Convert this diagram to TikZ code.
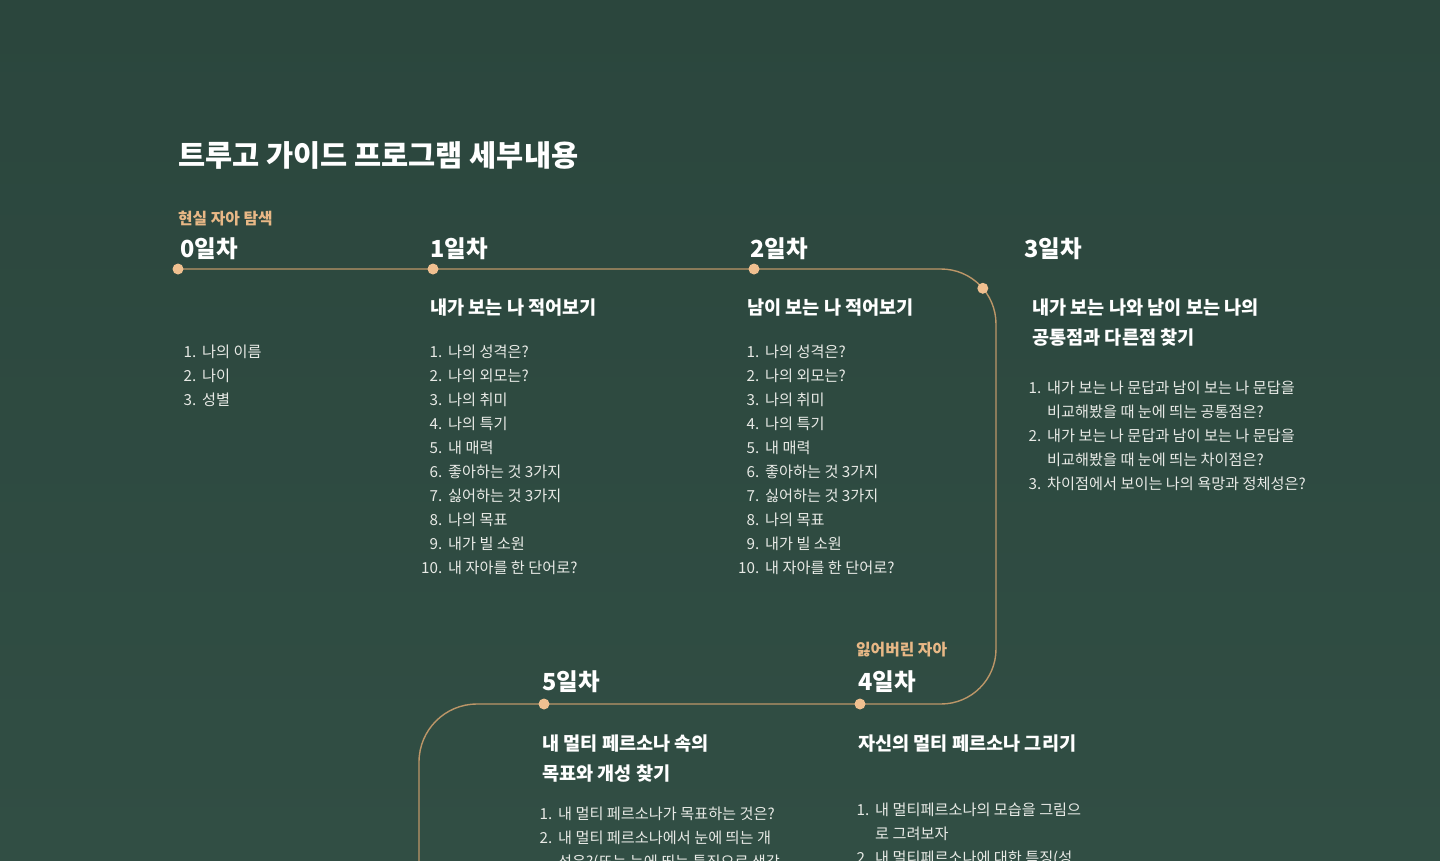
\documentclass[tikz,border=0pt]{standalone}
\usepackage{fontspec}
\usetikzlibrary{calc}
\setmainfont{Noto Sans CJK KR}
\definecolor{bgtop}{RGB}{43,70,61}
\definecolor{bgbot}{RGB}{49,78,68}
\definecolor{linec}{RGB}{188,150,104}
\definecolor{dotc}{RGB}{240,192,144}
\definecolor{accent}{RGB}{232,184,134}
\definecolor{itemc}{RGB}{232,234,230}
\tikzset{
  ttl/.style={font=\bfseries\fontsize{29.5}{35}\selectfont, text=white, anchor=base west, inner sep=0},
  daylbl/.style={font=\bfseries\fontsize{23.5}{28}\selectfont, text=white, anchor=base west, inner sep=0},
  tagl/.style={font=\bfseries\fontsize{15.8}{19}\selectfont, text=accent, anchor=base west, inner sep=0},
  head/.style={font=\bfseries\fontsize{18.6}{22}\selectfont, text=white, anchor=base west, inner sep=0},
  item/.style={font=\fontsize{15.2}{18}\selectfont, text=itemc, anchor=base west, inner sep=0},
  num/.style={font=\fontsize{15.2}{18}\selectfont, text=itemc, anchor=base east, inner sep=0},
  tdot/.style={circle, fill=dotc, minimum size=11, inner sep=0},
  tl/.style={draw=linec, line width=1.4}
}
\begin{document}
\begin{tikzpicture}[x=1pt,y=-1pt]
\useasboundingbox (0,0) rectangle (1440,860);
\clip (0,0) rectangle (1440,860);
\shade[top color=bgtop, bottom color=bgbot] (0,0) rectangle (1440,860);

% title
\node[ttl] (title) at (178,166) {트루고 가이드 프로그램 세부내용};

% timeline
\coordinate (c1a) at (941,269);
\coordinate (c1b) at (996,324);
\coordinate (c2a) at (996,649);
\coordinate (c2b) at (941,704);
\coordinate (c3a) at (477,704);
\coordinate (c3b) at (419,762);
\coordinate (tend) at (419,880);
\coordinate (d0) at (178,269);
\coordinate (d1) at (433,269);
\coordinate (d2) at (754,269);
\coordinate (d3) at ($(941,324)+(-40.5:55)$);
\coordinate (d4) at (860,704);
\coordinate (d5) at (544,704);
\draw[tl] (d0) -- (c1a) arc[start angle=-90,end angle=0,radius=55] -- (c2a)
  arc[start angle=0,end angle=90,radius=55] -- (c3a)
  arc[start angle=-90,end angle=-180,radius=58] -- (tend);
\foreach \d in {0,...,5}{ \node[tdot] (dot\d) at (d\d) {}; }

% day labels
\node[tagl] (tag0) at (178,224) {현실 자아 탐색};
\node[daylbl] (day0) at (180,257) {0일차};
\node[daylbl] (day1) at (430,257) {1일차};
\node[daylbl] (day2) at (750,257) {2일차};
\node[daylbl] (day3) at (1024,257) {3일차};
\node[tagl] (tag4) at (856,655) {잃어버린 자아};
\node[daylbl] (day4) at (858,690) {4일차};
\node[daylbl] (day5) at (542,690) {5일차};

% day 0 list
\foreach \t [count=\i] in {나의 이름,나이,성별}{
  \node[num] (n0-\i) at (196.5,{357+24*(\i-1)}) {\i.};
  \node[item] (t0-\i) at (202,{357+24*(\i-1)}) {\t};
}

% day 1
\node[head] (h1) at (430,314) {내가 보는 나 적어보기};
\foreach \t [count=\i] in {나의 성격은?,나의 외모는?,나의 취미,나의 특기,내 매력,좋아하는 것 3가지,싫어하는 것 3가지,나의 목표,내가 빌 소원,내 자아를 한 단어로?}{
  \node[num] (n1-\i) at (442.5,{357+24*(\i-1)}) {\i.};
  \node[item] (t1-\i) at (448,{357+24*(\i-1)}) {\t};
}

% day 2
\node[head] (h2) at (747,314) {남이 보는 나 적어보기};
\foreach \t [count=\i] in {나의 성격은?,나의 외모는?,나의 취미,나의 특기,내 매력,좋아하는 것 3가지,싫어하는 것 3가지,나의 목표,내가 빌 소원,내 자아를 한 단어로?}{
  \node[num] (n2-\i) at (759.5,{357+24*(\i-1)}) {\i.};
  \node[item] (t2-\i) at (765,{357+24*(\i-1)}) {\t};
}

% day 3
\node[head] (h3a) at (1032,314) {내가 보는 나와 남이 보는 나의};
\node[head] (h3b) at (1032,344) {공통점과 다른점 찾기};
\node[num] (n3-1) at (1041.5,393) {1.};
\node[item] (t3-1) at (1047,393) {내가 보는 나 문답과 남이 보는 나 문답을};
\node[item] (t3-1b) at (1047,417) {비교해봤을 때 눈에 띄는 공통점은?};
\node[num] (n3-2) at (1041.5,441) {2.};
\node[item] (t3-2) at (1047,441) {내가 보는 나 문답과 남이 보는 나 문답을};
\node[item] (t3-2b) at (1047,465) {비교해봤을 때 눈에 띄는 차이점은?};
\node[num] (n3-3) at (1041.5,489) {3.};
\node[item] (t3-3) at (1047,489) {차이점에서 보이는 나의 욕망과 정체성은?};

% day 4
\node[head] (h4) at (858,750) {자신의 멀티 페르소나 그리기};
\node[num] (n4-1) at (869.5,815) {1.};
\node[item] (t4-1) at (875,815) {내 멀티페르소나의 모습을 그림으};
\node[item] (t4-1b) at (875,839) {로 그려보자};
\node[num] (n4-2) at (869.5,863) {2.};
\node[item] (t4-2) at (875,863) {내 멀티페르소나에 대한 특징(성};

% day 5
\node[head] (h5a) at (542,750) {내 멀티 페르소나 속의};
\node[head] (h5b) at (542,780) {목표와 개성 찾기};
\node[num] (n5-1) at (552.5,819) {1.};
\node[item] (t5-1) at (558,819) {내 멀티 페르소나가 목표하는 것은?};
\node[num] (n5-2) at (552.5,843) {2.};
\node[item] (t5-2) at (558,843) {내 멀티 페르소나에서 눈에 띄는 개};
\node[item] (t5-2b) at (558,867) {성은?(또는 눈에 띄는 특징으로 생각};
\end{tikzpicture}
\end{document}
